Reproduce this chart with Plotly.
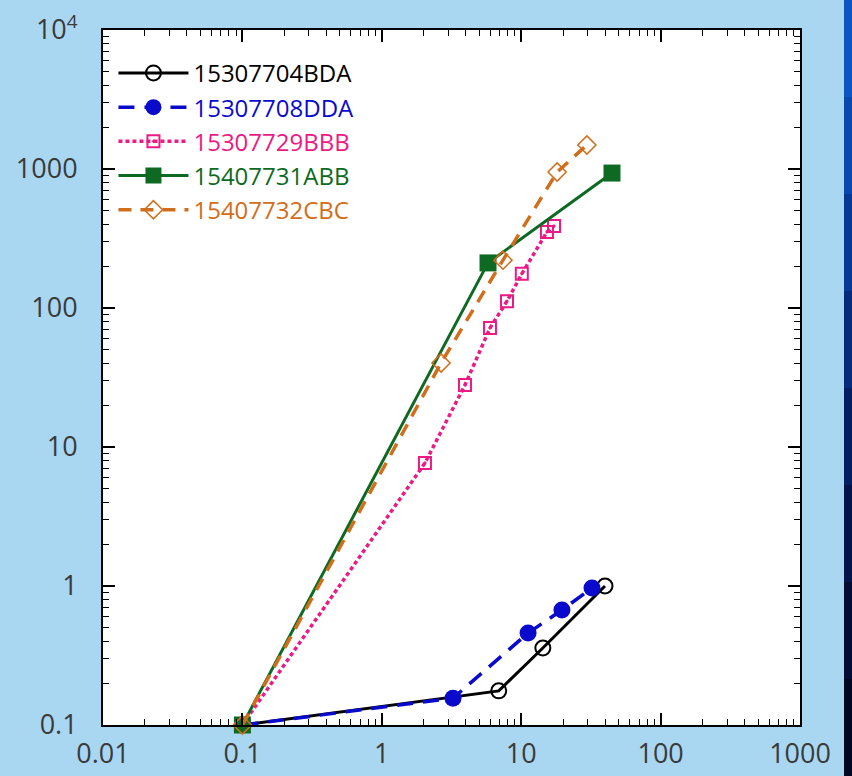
import plotly.graph_objects as go

# ---- data ----
names = ["15307704BDA", "15307708DDA", "15307729BBB", "15407731ABB", "15407732CBC"]

x_bda = [0.1, 6.9, 14.3, 39.9]
y_bda = [0.1, 0.176, 0.358, 1.0]

x_dda = [0.1, 3.24, 11.2, 19.6, 32.2]
y_dda = [0.1, 0.156, 0.459, 0.672, 0.968]

x_bbb = [0.1, 2.04, 3.95, 5.97, 7.91, 10.1, 15.3, 17.2]
y_bbb = [0.1, 7.67, 27.9, 71.8, 112, 176, 352, 389]

x_abb = [0.1, 5.78, 44.8]
y_abb = [0.1, 211, 935]

x_cbc = [0.1, 2.66, 7.40, 18.1, 29.6]
y_cbc = [0.1, 40.2, 221, 951, 1489]

x_tickvals = [0.01, 0.1, 1, 10, 100, 1000]
x_ticktext = ["0.01", "0.1", "1", "10", "100", "1000"]
y_tickvals = [0.1, 1, 10, 100, 1000, 10000]
y_ticktext = ["0.1", "1", "10", "100", "1000", "10<sup>4</sup>"]

colors = ["#000000", "#0A0ACC", "#EC1A85", "#0E6A22", "#D06E1C"]

fig = go.Figure()

series = [
    (x_bda, y_bda, dict(symbol="circle-open", size=15, color=colors[0], line=dict(width=2, color=colors[0])), dict(color=colors[0], width=3)),
    (x_dda, y_dda, dict(symbol="circle", size=17, color=colors[1]), dict(color=colors[1], width=3.5, dash="16px,10px")),
    (x_bbb, y_bbb, dict(symbol="square-open-dot", size=12, color=colors[2], line=dict(width=2, color=colors[2])), dict(color=colors[2], width=3.5, dash="4px,3px")),
    (x_abb, y_abb, dict(symbol="square", size=17, color=colors[3]), dict(color=colors[3], width=3)),
    (x_cbc, y_cbc, dict(symbol="diamond-open", size=14, color=colors[4], line=dict(width=1.5, color=colors[4])), dict(color=colors[4], width=3.5, dash="13px,9px")),
]

for i, (xs, ys, mk, ln) in enumerate(series):
    fig.add_trace(go.Scatter(
        x=xs, y=ys, mode="lines+markers",
        name=f"<span style='color:{colors[i]}'>{names[i]}</span>",
        marker=mk, line=ln, cliponaxis=False,
    ))

def minor_vals(lo, hi):
    vals = []
    d = lo
    while d < hi:
        for k in range(2, 10):
            vals.append(d * k)
        d *= 10
    return vals

axis_common = dict(
    type="log", showgrid=False, zeroline=False, automargin=False,
    showline=True, linecolor="black", linewidth=2, mirror="ticks",
    ticks="inside", ticklen=12, tickwidth=1.5, tickcolor="black",
    tickmode="array",
    tickfont=dict(family="Open Sans", size=27, color="#3a3a3a"),
)

fig.update_xaxes(
    **axis_common,
    range=[-2, 3],
    tickvals=x_tickvals, ticktext=x_ticktext,
    minor=dict(ticks="inside", ticklen=6, tickwidth=1.2, tickcolor="black",
               tickmode="array", tickvals=minor_vals(0.01, 1000), showgrid=False),
    ticklabelstandoff=4,
)
fig.update_yaxes(
    **axis_common,
    range=[-1, 4],
    tickvals=y_tickvals, ticktext=y_ticktext,
    minor=dict(ticks="inside", ticklen=6, tickwidth=1.2, tickcolor="black",
               tickmode="array", tickvals=minor_vals(0.1, 10000), showgrid=False),
    ticklabelstandoff=18,
)

# dark blue decorative strip on the right edge
strip = ["#0B56C4", "#0A47AE", "#083896", "#062A7C", "#041E62", "#03144A", "#020C34", "#010622"]
n = len(strip)
for i, c in enumerate(strip):
    fig.add_shape(type="rect", xref="paper", yref="paper",
                  x0=(844 - 103) / 697, x1=(860 - 103) / 697,
                  y0=1 + 30 / 695 - (i + 1) * (776 / 695) / n,
                  y1=1 + 30 / 695 - i * (776 / 695) / n,
                  fillcolor=c, line=dict(width=0), layer="below")

fig.update_layout(
    width=852, height=776,
    margin=dict(l=103, r=52, t=30, b=51, autoexpand=False),
    paper_bgcolor="#A9D7F2",
    plot_bgcolor="white",
    showlegend=True,
    legend=dict(
        x=0.015, y=0.97, xanchor="left", yanchor="top",
        bgcolor="rgba(0,0,0,0)", borderwidth=0,
        font=dict(family="Open Sans", size=24, color="#333"),
        itemwidth=70, tracegroupgap=0,
    ),
)

fig.write_html("out.html", config={"displayModeBar": False},
               post_script="document.body.style.margin='0';document.body.style.background='#A9D7F2';")
